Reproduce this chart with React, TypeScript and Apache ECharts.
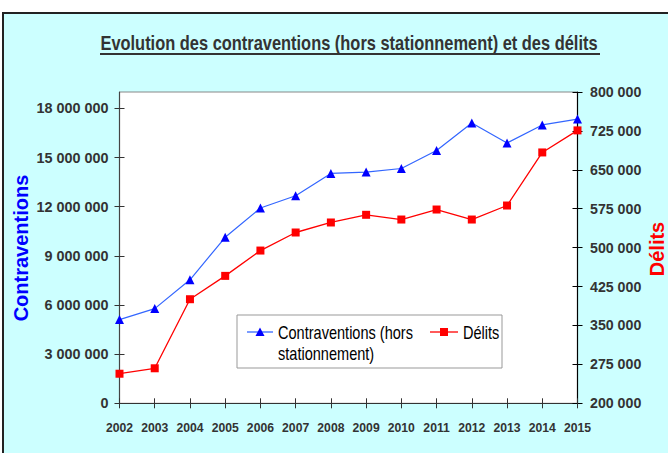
import React, { useEffect, useRef } from "react";
import * as echarts from "echarts";

const years = ["2002", "2003", "2004", "2005", "2006", "2007", "2008", "2009", "2010", "2011", "2012", "2013", "2014", "2015"];
const contraventions = [5110000, 5780000, 7540000, 10130000, 11920000, 12670000, 14030000, 14110000, 14330000, 15430000, 17110000, 15890000, 16990000, 17350000];
const delits = [257000, 267500, 400600, 445600, 494400, 529200, 548500, 563300, 554200, 573500, 554200, 581200, 683500, 726000];
const leftTicks = [0, 3000000, 6000000, 9000000, 12000000, 15000000, 18000000];
const rightTicks = [200000, 275000, 350000, 425000, 500000, 575000, 650000, 725000, 800000];

const TITLE = "Evolution des contraventions (hors stationnement) et des délits";
const SERIES_A = "Contraventions (hors stationnement)";
const SERIES_B = "Délits";

const ARIAL = '"Liberation Sans", Arial, sans-serif';
const fmt = (v: number) => String(Math.round(v)).replace(/\B(?=(\d{3})+(?!\d))/g, " ");

function measure(text: string, font: string): number {
  const ctx = document.createElement("canvas").getContext("2d");
  if (!ctx) return 0;
  ctx.font = font;
  return ctx.measureText(text).width;
}

export default function App() {
  const ref = useRef<HTMLDivElement>(null);
  useEffect(() => {
    if (!ref.current) return;
    const chart = echarts.init(ref.current, undefined, { renderer: "svg" });
    const titleFont = `bold 21px ${ARIAL}`;
    const titleW = measure(TITLE, titleFont) || 600;
    const titleScale = 497 / titleW;
    const legFont = `18px ${ARIAL}`;
    const legW = measure("Contraventions (hors", legFont) || 160;
    const legScale = 135 / legW;
    const axisLabel = { fontFamily: ARIAL, fontWeight: "bold" as const, fontSize: 14.4, color: "#333" };
    chart.setOption({
      animation: false,
      backgroundColor: "transparent",
      grid: { left: 119.5, right: 90.5, top: 92, bottom: 49.7, show: true, backgroundColor: "#fff", borderColor: "#888", borderWidth: 1 },
      xAxis: [
        {
          type: "category", data: years, boundaryGap: false,
          axisLine: { lineStyle: { color: "#333", width: 1.2 } },
          axisTick: { inside: false, length: 5, lineStyle: { color: "#333" } },
          axisLabel: { fontFamily: ARIAL, fontWeight: "bold", fontSize: 12.2, color: "#333", margin: 19, interval: 0 },
        },
        {
          type: "category", data: years, boundaryGap: false, position: "bottom",
          axisLine: { show: false },
          axisTick: { inside: true, length: 5, lineStyle: { color: "#333" } },
          axisLabel: { show: false },
        },
      ],
      yAxis: [
        {
          type: "value", min: 0, max: 19000000, position: "left",
          splitLine: { show: false },
          axisLine: { show: true, lineStyle: { color: "#444", width: 1.2 } },
          axisTick: { show: true, length: 5, customValues: leftTicks, lineStyle: { color: "#333" } },
          axisLabel: { ...axisLabel, margin: 11, customValues: leftTicks, formatter: (v: number) => fmt(v) },
        },
        {
          type: "value", min: 200000, max: 800000, position: "right",
          splitLine: { show: false },
          axisLine: { show: true, lineStyle: { color: "#000", width: 1.2 } },
          axisTick: { show: true, length: 5, customValues: rightTicks, lineStyle: { color: "#000" } },
          axisLabel: { ...axisLabel, fontSize: 14.2, margin: 12.5, customValues: rightTicks, formatter: (v: number) => fmt(v) },
        },
        {
          type: "value", min: 0, max: 19000000, position: "left",
          splitLine: { show: false }, axisLine: { show: false },
          axisTick: { show: true, inside: true, length: 5, customValues: leftTicks, lineStyle: { color: "#333" } },
          axisLabel: { show: false },
        },
        {
          type: "value", min: 200000, max: 800000, position: "right",
          splitLine: { show: false }, axisLine: { show: false },
          axisTick: { show: true, inside: true, length: 5, customValues: rightTicks, lineStyle: { color: "#000" } },
          axisLabel: { show: false },
        },
      ],
      series: [
        {
          name: SERIES_B, type: "line", yAxisIndex: 1, data: delits,
          symbol: "rect", symbolSize: 8,
          lineStyle: { color: "#ff0000", width: 1.3 },
          itemStyle: { color: "#ff0000" },
        },
        {
          name: SERIES_A, type: "line", yAxisIndex: 0, data: contraventions,
          symbol: "triangle", symbolSize: 9,
          lineStyle: { color: "#3366ff", width: 1.2 },
          itemStyle: { color: "#0000ff" },
        },
      ],
      graphic: [
        { type: "text", x: 349, y: 43, scaleX: titleScale, style: { text: TITLE, font: titleFont, fill: "#333", align: "center", verticalAlign: "middle" } },
        { type: "line", shape: { x1: 100, y1: 54, x2: 600, y2: 54 }, style: { stroke: "#333", lineWidth: 2 } },
        { type: "text", x: 21, y: 248, rotation: Math.PI / 2, style: { text: "Contraventions", font: `bold 20px ${ARIAL}`, fill: "#0000ff", align: "center", verticalAlign: "middle" } },
        { type: "text", x: 657, y: 249, rotation: Math.PI / 2, style: { text: "Délits", font: `bold 20px ${ARIAL}`, fill: "#ff0000", align: "center", verticalAlign: "middle" } },
        {
          type: "group", z: 100,
          children: [
            { type: "rect", shape: { x: 237, y: 315, width: 265, height: 53 }, style: { fill: "#fff", stroke: "#999", lineWidth: 1 } },
            { type: "line", shape: { x1: 247, y1: 332, x2: 273, y2: 332 }, style: { stroke: "#3366ff", lineWidth: 1.3 } },
            { type: "polygon", shape: { points: [[260, 327.5], [264.5, 336], [255.5, 336]] }, style: { fill: "#0000ff" } },
            { type: "text", x: 278, y: 332, scaleX: legScale, style: { text: "Contraventions (hors", font: legFont, fill: "#000", verticalAlign: "middle" } },
            { type: "text", x: 278, y: 353, scaleX: legScale, style: { text: "stationnement)", font: legFont, fill: "#000", verticalAlign: "middle" } },
            { type: "line", shape: { x1: 430, y1: 332, x2: 458, y2: 332 }, style: { stroke: "#ff0000", lineWidth: 1.3 } },
            { type: "rect", shape: { x: 440, y: 328, width: 8, height: 8 }, style: { fill: "#ff0000" } },
            { type: "text", x: 463, y: 332, scaleX: legScale, style: { text: SERIES_B, font: legFont, fill: "#000", verticalAlign: "middle" } },
          ],
        },
      ],
    });
    return () => chart.dispose();
  }, []);
  return (
    <div style={{ position: "fixed", left: 0, top: 0, width: 668, height: 453, overflow: "hidden", background: "#fff" }}>
      <div style={{ position: "absolute", left: 2, top: 12, width: 700, height: 500, background: "#ccffff", borderLeft: "2px solid #222", borderTop: "2px solid #222", boxSizing: "border-box" }} />
      <div ref={ref} style={{ position: "absolute", left: 0, top: 0, width: 668, height: 453 }} />
    </div>
  );
}
